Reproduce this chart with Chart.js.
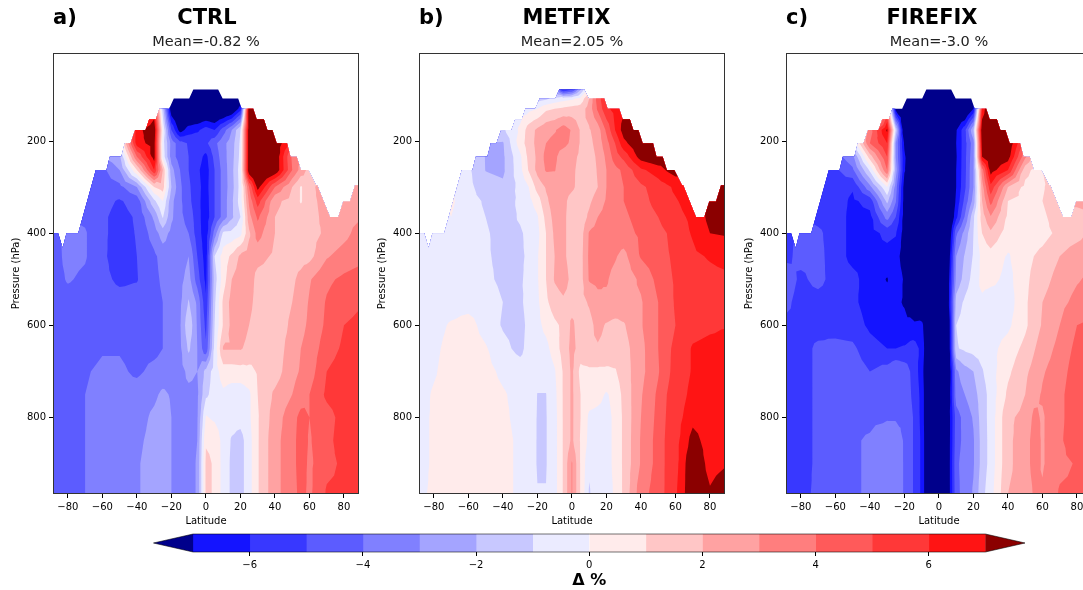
<!DOCTYPE html>
<html>
<head>
<meta charset="utf-8">
<title>CTRL METFIX FIREFIX</title>
<script src="https://cdn.jsdelivr.net/npm/chart.js@4/dist/chart.umd.min.js"></script>
<style>
  html, body { margin: 0; padding: 0; background: #fff; overflow: hidden; }
  #page { position: relative; width: 1083px; height: 590px; overflow: hidden; }
  .box { position: absolute; }
</style>
</head>
<body>
<div id="page">
  <div class="box" style="left:0;top:0;width:366px;height:530px"><canvas id="panelA"></canvas></div>
  <div class="box" style="left:366px;top:0;width:366px;height:530px"><canvas id="panelB"></canvas></div>
  <div class="box" style="left:733px;top:0;width:366px;height:530px"><canvas id="panelC"></canvas></div>
  <div class="box" style="left:0;top:525px;width:1083px;height:65px"><canvas id="colorbar"></canvas></div>
</div>
<script>
// grid of the three panels
const lats = [-88, -80, -70, -60, -50, -40, -30, -25, -20, -15, -10, -5, 0, 5, 10, 15, 20, 25, 30, 40, 50, 55, 60, 70, 80, 88];
const pressures = [85, 108, 130, 176, 205, 234, 263, 300, 330, 365, 400, 450, 500, 550, 600, 650, 700, 750, 800, 850, 900, 960];

// one row per pressure, one value per latitude
const ctrlValues = [
  [-4,-4,-4,-4,-4,3,8,0,-8,-9,-9,-9,-9,-9,-9,-9,-8,0,9,9,9,5,4,3,3,3],
  [-4,-4,-4,-4,-4,3,7,-1,-8.5,-9,-9,-9,-9,-9,-9,-9,-8,2,9,9,9,5,4,3,3,3],
  [-4,-4,-4,-4,-4,3,6,-1.5,-8,-9,-9,-9,-9,-9,-9,-8.5,-6.5,8,9,9,9,5,4,3,3,3],
  [-4,-4,-4,-4,2,6.5,8,0,-5,-7.5,-6.5,-6.2,-5.5,-6,-4.5,-3,-1,8,9,8,7,5,4,3,3,3],
  [-4,-4,-4,-3,-0.5,6.5,7.5,-0.5,-3.4,-4.6,-5.1,-5.1,-5.2,-4.3,-3.3,-2.5,-0.8,8,8.5,8,5.5,4,3,3,3,3],
  [-4,-4,-4,-3,-2.2,4,7.5,-0.3,-3.5,-4.5,-5,-5.5,-6.3,-4.7,-3.4,-2.4,-0.7,8,9,8,3.8,3,2.2,3,3,3],
  [-4,-4,-4.5,-4.3,-3,1,6,2,-2.6,-4,-5,-5.8,-6.5,-5,-3.6,-2.3,-0.5,8,9,8,4,2.6,1.6,1.5,2.5,3],
  [-4,-4,-4.4,-4.4,-4.3,-3,1,1.5,-2,-3.8,-4.8,-5.7,-6.4,-5,-3.6,-2.4,-0.6,4,7.4,4,2,0.9,1.6,2.8,3,2.9],
  [-4,-4,-4.4,-4.7,-5.1,-4.6,-1.2,0,-2.7,-3.8,-4.7,-5.7,-6.5,-5,-3.6,-2.2,-0.5,3.2,5.5,2.2,1.7,0.9,1.6,2.5,2.7,2.7],
  [-4,-4,-4.2,-4.85,-5.3,-4.9,-2.8,-0.9,-2.8,-3.8,-4.3,-5.6,-6.6,-5,-3.6,-2.2,-1,2.6,4.2,2,1.6,1.5,1.5,2.4,2.6,2.9],
  [-4.3,-3.7,-3.9,-4.85,-5.3,-4.95,-3.5,-2.5,-3.3,-3.7,-4,-5.5,-6.6,-3.6,-0.8,-0.7,-0.3,1.8,3.4,2,1.6,1.6,1.6,2.2,2.7,3.3],
  [-4.4,-3.7,-3.9,-4.85,-5.4,-5,-4.2,-3.6,-3.5,-3.5,-3,-5,-6.5,-1,0.5,1.2,2.2,2.5,2.4,1.8,1.6,1.6,1.7,2.9,3.4,3.7],
  [-4.4,-3.9,-4.2,-4.8,-5.15,-5.05,-4.3,-3.8,-3.5,-3.3,-2.6,-4.5,-6.3,-1.5,0.5,2,2.5,2.6,1.6,1.4,1.8,2.3,2.9,3.8,4.2,4.4],
  [-4.6,-4.4,-4.5,-4.6,-4.7,-4.7,-4.4,-4,-3.5,-3.2,-1.9,-3.2,-5.8,-1.2,1.2,2.4,2.5,2.3,1.6,1.4,2,2.5,3.1,4.1,4.6,4.9],
  [-4.7,-4.7,-4.7,-4.7,-4.7,-4.7,-4.5,-4,-3.6,-3.1,-1.2,-3.1,-5.3,-1,1.1,2.3,2.5,2,1.5,1.4,2.2,2.7,3.2,4.2,5,5.2],
  [-4.8,-4.7,-4.4,-4.1,-4.1,-4.4,-4.3,-4,-3.5,-3.2,-1.8,-3,-4.8,-0.7,2.1,2.1,2.1,1.7,1.4,1.4,2.5,3,3.4,4.5,5.2,5.4],
  [-4.8,-4.7,-4.1,-3.8,-3.8,-4.2,-3.7,-3.6,-3.5,-3.3,-2.8,-3,-1.7,-0.5,0.5,0.5,0.6,0.7,1.1,1.5,2.7,3.1,3.5,5,5.5,5.6],
  [-4.8,-4.6,-4,-3.7,-3.6,-3.5,-3.2,-2.8,-3.1,-3.2,-3.2,-3.2,-1.2,-0.6,-0.2,-0.5,-0.6,-0.2,1,2.2,3,3.5,4,5.2,5.6,5.7],
  [-4.7,-4.6,-4,-3.7,-3.6,-3.4,-2.8,-2.5,-3,-3.3,-3.4,-3.1,0.1,-0.2,-0.5,-0.6,-0.6,-0.2,0.9,2.5,3.6,4.3,4,4.6,5.4,5.5],
  [-4.7,-4.6,-4,-3.7,-3.5,-3.2,-2.7,-2.5,-3,-3.3,-3.4,-3,0.9,0.8,-0.4,-1.1,-1.4,-0.4,0.9,2.7,3.6,4.5,3.9,4.7,5.5,5.6],
  [-4.7,-4.6,-4,-3.7,-3.5,-3.1,-2.6,-2.5,-3,-3.3,-3.4,-2.9,1.2,0.9,-0.4,-1.2,-1.4,-0.4,0.9,2.7,3.6,4.5,3.8,4.7,5.2,5.3],
  [-4.6,-4.5,-4,-3.7,-3.5,-3.1,-2.6,-2.5,-3,-3.3,-3.4,-2.9,1.2,0.9,-0.4,-1.2,-1.4,-0.4,0.9,2.7,3.6,4.3,3.8,5.1,5.2,5.1]
];
const metfixValues = [
  [-0.5,-0.5,-0.5,-0.5,-0.5,-0.5,-0.5,-0.5,-0.5,-0.6,-2,-7,-6,-2.5,1,3,5,6,7,8,8,8,8,8,8,8],
  [-0.5,-0.5,-0.5,-0.5,-0.5,-0.5,-0.5,-0.8,-1.5,-1.2,-0.7,-0.4,-0.2,0.3,2,4.5,6,6.5,7,8,8,8,8,8,8,8],
  [-1,-1,-1,-1,-1,-1,-0.5,-0.3,0,0.8,1,1.2,1.4,1.5,2.4,4.2,5.8,6.3,6.8,8,8,8,8,8,8,8],
  [-1,-1,-1,-1,-1,-1.2,0.2,1.5,2.2,2.7,2.9,3.5,2.9,1.9,1.9,2.5,4.2,6,7.5,8.5,8,8,8,8,8,8],
  [-1,-1,-1,-1.5,-2.05,-2.1,0.5,1.5,2.3,3,3.3,3.3,2.8,1.9,1.7,2.4,3.6,5,6.7,8,8,8,8,8,8,8],
  [-1,-1,-1,-1,-2.05,-2.2,-0.2,1.3,2.2,3.3,3.2,2.5,2.3,1.8,1.5,2.2,3.2,4.5,5.3,7.5,8,7.6,7.5,7.5,7.5,7.5],
  [-0.7,-0.7,-0.5,-0.8,-2.03,-2.2,-0.3,1.1,2.3,3.1,3.05,2.5,2.2,1.7,1.4,2.1,3,3.7,4.2,5.8,6.5,7.1,7.5,7,7,7],
  [-0.7,-0.5,0.1,-0.7,-1.6,-1.8,-0.7,0,1.4,2.1,2.5,2.4,2.2,1.6,1.4,2,3,3.5,4,4.8,5.5,5.8,6.2,6.8,7.3,7.6],
  [-0.7,-0.4,0.2,-0.7,-1.1,-1.5,-0.8,-0.3,0.5,1.8,2.5,2.3,1.6,1.4,1.8,2.5,3.1,3.5,4,4.6,5.4,5.7,5.9,6.5,7.2,7.8],
  [-0.7,-0.6,0,-0.7,-1,-1.4,-0.9,-0.6,-0.1,1.3,2.4,2.2,1.6,1.4,2.2,3,3.3,3.5,3.8,4.4,5,5.3,5.7,6.2,7.3,7.8],
  [-0.5,-0.6,-0.1,-0.6,-0.9,-1.3,-1.1,-0.8,-0.3,1,2.2,2.2,1.6,1.5,3.1,3.4,3.4,3.5,3.6,4.2,4.8,5,5.4,6.1,7,7.1],
  [-0.5,-0.5,-0.4,-0.5,-0.9,-1.2,-1.1,-0.9,-0.1,1,2,2.2,1.6,1.6,3.2,3.4,3.3,3.1,2.7,4.1,4.6,4.9,5.2,5.8,6.1,6.3],
  [-0.5,-0.5,-0.4,-0.5,-0.8,-1.2,-1.1,-0.8,-0.1,1,2.1,2.5,1.7,1.6,3.1,3.3,3.1,2.7,2.4,3.2,4.3,4.8,5.1,5.5,5.7,5.8],
  [-0.5,-0.5,-0.4,-0.4,-0.5,-1,-1.2,-0.6,-0.2,0.8,1.5,1.8,1.6,1.7,2.1,2.6,2.8,2.7,2.6,2.9,4,4.6,5.1,5.5,5.6,5.7],
  [-0.6,-0.3,0.1,0.4,-0.4,-1.1,-1.4,-0.7,-0.3,0.3,0.8,1.2,2.2,1.5,1.7,2.3,1.9,1.7,1.9,2.9,4,4.6,5,5.6,5.8,5.95],
  [-0.5,-0.2,0.3,0.5,0.1,-0.7,-1.3,-0.6,-0.5,-0.3,0.5,1.4,2.3,1.6,1.9,1.9,1.7,1.6,1.6,2.7,4,4.8,5.2,6.1,6.3,6.3],
  [-0.4,-0.1,0.4,0.6,0.3,-0.2,-0.5,-0.5,-0.7,-0.7,-0.1,1.1,2.2,0.7,0.8,0.8,0.8,0.9,1.5,2.7,3.9,4.8,5.3,6.1,6.4,6.5],
  [-0.3,0.1,0.4,0.6,0.4,0.1,-0.3,-0.4,-1.02,-1.02,-0.3,1.1,2.2,1,0.5,0.3,-0.1,0.3,1.3,2.9,4.2,5,5.4,6.3,6.5,6.5],
  [-0.2,0.1,0.5,0.6,0.5,0.2,-0.3,-0.5,-1.05,-1.05,-0.4,1.1,2.2,1,-0.2,-0.3,-0.3,0.2,1.2,3,4.3,5.1,5.5,6.7,6.4,6.4],
  [-0.2,0.1,0.5,0.6,0.5,0.3,-0.2,-0.6,-1.05,-1.05,-0.4,1.1,2.2,0.9,-0.3,-0.3,-0.3,0.2,1.2,3.1,4.4,5.2,5.6,7.4,6.5,6.5],
  [-0.2,0.1,0.5,0.6,0.5,0.3,-0.2,-0.6,-1.05,-1.05,-0.4,1.1,3.1,0.9,-0.8,-0.3,-0.3,0.2,1.2,3.1,4.4,5.2,5.6,8,6.6,6.9],
  [-0.1,0.1,0.5,0.6,0.5,0.3,-0.2,-0.5,-0.98,-0.98,-0.4,1.1,3.1,0.9,-1.1,-0.4,-0.3,0.1,1.2,3.6,4.5,5.2,5.8,8,7.1,7.6]
];
const firefixValues = [
  [-5,-5,-5,-5,-5,-5,6,-5,-9,-9,-9,-9,-9,-9,-9,-9,-9,8,9,9,9,6,5,3,3,3],
  [-5,-5,-5,-5,-5,-5,5,-7,-9,-9,-9,-9,-9,-9,-9,-9,-8.5,7,9,9,9,6,5,3,3,3],
  [-5,-5,-5,-5,-5,-5,4,-7.5,-9,-9,-9,-9,-9,-9,-9,-9,-7,6,9,9,9,6,5,3,3,3],
  [-5,-5,-5,-5,1,3.5,7.2,-1.2,-8.5,-9,-9,-9,-9,-9,-7.1,-5.3,-2,8,9,8.5,6,5,4,3,3,3],
  [-5,-5,-5,-4,-1,4,6,-3,-7.2,-9,-9,-9,-9,-9,-7,-5.4,-3.4,7.5,8.5,8,4.5,3.5,3,3,3,3],
  [-5,-5,-5,-4.5,-3.3,1.5,5,-3,-6.8,-8.5,-9,-9,-9,-9,-7.1,-5.3,-3.2,7,8,7.5,3.2,1.8,1.6,2,2,2],
  [-5,-5,-5.5,-5.2,-4.2,-0.8,4,-2.5,-6.9,-8,-9,-9,-9,-9,-7,-5.3,-3,3.5,7.5,6,1.4,0.8,1,1.5,1.5,1.5],
  [-5,-5,-5.5,-5.5,-5.9,-3.3,0,-3.5,-7.5,-8,-9,-9,-9,-9,-7,-5.2,-3,2.5,5.7,2,0.7,0.6,0.8,2.3,2.2,2.2],
  [-5,-5,-5.3,-5.5,-6.2,-5.6,-1.7,-3.9,-7.5,-8,-9,-9,-9,-9,-6.8,-4.7,-2.6,2,4.4,1,0.7,0.6,1,2.1,2.2,2.3],
  [-5,-5,-5.3,-5.5,-6.3,-6.3,-3.6,-5,-7.5,-8,-9,-9,-9,-9,-6.3,-3.9,-1.2,1.5,2.9,0.8,0.5,0.5,0.7,1.8,1.7,1.9],
  [-5.5,-4.5,-4.8,-5.5,-6.3,-6.4,-5.7,-5.9,-7.5,-9,-9,-9,-9,-9,-4.2,-2.6,-1,1,1.8,0.5,0.4,0.5,0.6,1.3,1.6,2.2],
  [-5.2,-4.7,-4.7,-5.5,-6.3,-6.4,-6.4,-6.6,-7.5,-8.5,-9,-9,-9,-8.5,-3,-1.9,-0.9,0.3,0.6,-0.1,0.6,1,1.3,2,2.6,2.7],
  [-4.5,-5.2,-4.7,-5.4,-5.7,-6.5,-7.05,-6.5,-7.1,-9,-9,-9,-9,-8,-2.7,-1.6,-0.6,0.3,0.3,-0.3,0.7,1.3,1.6,2.4,2.9,3.2],
  [-4.8,-5.4,-5.4,-5.5,-5.8,-6.4,-6.7,-6.8,-7.1,-8,-9,-9,-9,-8,-1.6,-0.8,-0.2,-0.2,-0.6,-0.5,0.8,1.5,2,2.7,3.3,3.5],
  [-5.2,-5.3,-5.3,-5.4,-5.5,-6.2,-6.6,-6.6,-6.7,-6.7,-6.6,-9,-9,-9,-1,-0.6,-0.5,-0.4,-0.5,-0.2,0.8,1.5,2.1,3,4,4.2],
  [-5.2,-5.3,-4.85,-4.7,-4.8,-5.6,-6,-6,-5.9,-5.6,-6.2,-9,-9,-9,-1.1,-0.8,-0.6,-0.5,-0.3,0.4,1.3,1.9,2.5,3.3,4.3,4.7],
  [-5.2,-5.3,-4.85,-4.5,-4.5,-5,-4.6,-4,-4.4,-5.3,-6.5,-9,-9,-9,-3.2,-2.4,-2,-1.1,-0.4,0.8,1.8,2.3,2.9,3.5,4.6,4.9],
  [-5.2,-5.3,-4.85,-4.4,-4.4,-4.3,-4.2,-4.1,-4.3,-5.2,-6.3,-9,-9,-8.5,-3.5,-3,-2.4,-1.5,-0.6,1.2,2,2.7,3.1,3.7,4.8,5.1],
  [-5.2,-5.3,-4.85,-4.3,-4.2,-4.2,-4.1,-4.1,-4.2,-5,-6.3,-9,-9,-8,-4.5,-3.6,-2.9,-1.5,-0.6,1.8,2.3,3.2,2.9,3.7,4.8,5.2],
  [-5.2,-5.3,-4.85,-4.2,-4.1,-3.9,-3.4,-3.5,-4.1,-5,-6.2,-9,-9,-8,-4.4,-3.7,-3.1,-1.6,-0.6,1.8,2.5,3.4,2.9,3.8,4.8,5.2],
  [-5.2,-5.3,-4.85,-4.2,-4.1,-3.9,-3.3,-3.4,-4.1,-5,-6.2,-9,-9,-8,-4.2,-3.6,-3.1,-1.6,-0.6,1.8,2.5,3.4,2.9,3.7,4.1,4.2],
  [-5.1,-5.2,-4.85,-4.2,-4.1,-3.9,-3.3,-3.4,-4.1,-5,-6.2,-9,-9,-8,-4.3,-3.6,-2.9,-1.3,-0.4,2,2.4,3.1,3.1,4.1,4.2,4.2]
];

// upper edge of the data (above it the field is missing)
const edgeLat = [-88.6,-85.6,-83,-80.8,-74,-63.8,-57.6,-55.7,-49,-47,-43.7,-41,-35,-32.9,-29,-27,-21.3,-18.6,-9.7,-7.3,7.1,9.7,18.7,20.7,27.4,29.4,33.6,35.6,38.5,41,47,49,52.6,55,59.3,63.8,64.5,71.9,76.7,79.6,83.5,86.4,88.7];
const edgeP = [400,400,432,400,400,263,263,234,234,205,205,176,176,153,153,130,130,108,108,88,88,108,108,130,130,153,153,176,176,205,205,234,234,263,263,296,296,365,365,331,331,296,296];

// contour levels and colours
const levels = [-7,-6,-5,-4,-3,-2,-1,0,1,2,3,4,5,6,7];
const bandColors = ['#00008b','#1414ff','#3838ff','#5c5cff','#8080ff','#a4a4ff','#c8c8ff','#ebebff','#ffebeb','#ffc6c6','#ffa2a2','#ff7e7e','#ff5a5a','#ff3838','#ff1414','#8b0000'];

const latTicks = [-80,-60,-40,-20,0,20,40,60,80];
const pressureTicks = [200,400,600,800];
const barTicks = [-6,-4,-2,0,2,4,6];

const latRange = [-88.6, 88.7];
const pressureRange = [9, 966];
const barRange = [-7.7, 7.7];

const panelIds = ['panelA','panelB','panelC'];
const panelLetters = ['a)','b)','c)'];
const panelNames = ['CTRL','METFIX','FIREFIX'];
const panelMeans = ['Mean=-0.82 %','Mean=2.05 %','Mean=-3.0 %'];
const panelNameShift = [1,-5.5,-7];
const panelValues = [ctrlValues, metfixValues, firefixValues];

Chart.defaults.font.family = '"DejaVu Sans", sans-serif';
Chart.defaults.color = '#000';
Chart.defaults.animation = false;

const minusSign = v => String(v).replace('-', '\u2212');

// keep the part of a triangle where v >= level
function clipAbove(poly, level) {
  const out = [];
  for (let i = 0; i < poly.length; i++) {
    const a = poly[i];
    const b = poly[(i + 1) % poly.length];
    if (a.v >= level) out.push(a);
    if ((a.v >= level) !== (b.v >= level)) {
      const t = (level - a.v) / (b.v - a.v);
      out.push({ x: a.x + t * (b.x - a.x), y: a.y + t * (b.y - a.y), v: level });
    }
  }
  return out;
}

// filled contours drawn through the chart scales, low levels first
const contourPlugin = {
  id: 'contour',
  beforeDatasetsDraw(chart) {
    const { ctx, chartArea: area, scales: { x, y } } = chart;
    const pts = chart.data.datasets[0].data;
    const nc = lats.length;
    ctx.save();
    ctx.beginPath();
    ctx.rect(area.left, area.top, area.width, area.height);
    ctx.clip();
    ctx.beginPath();
    edgeLat.forEach((lat, i) => {
      ctx.lineTo(x.getPixelForValue(lat), y.getPixelForValue(edgeP[i]));
    });
    ctx.lineTo(x.getPixelForValue(latRange[1]), y.getPixelForValue(pressureRange[1]));
    ctx.lineTo(x.getPixelForValue(latRange[0]), y.getPixelForValue(pressureRange[1]));
    ctx.closePath();
    ctx.clip();

    ctx.fillStyle = bandColors[0];
    ctx.fillRect(area.left, area.top, area.width, area.height);

    // each grid cell is split round its centre so no diagonal is favoured
    const tris = [];
    for (let r = 0; r < pressures.length - 1; r++) {
      for (let c = 0; c < nc - 1; c++) {
        const p00 = pts[r * nc + c], p01 = pts[r * nc + c + 1];
        const p10 = pts[(r + 1) * nc + c], p11 = pts[(r + 1) * nc + c + 1];
        const mid = {
          x: (p00.x + p01.x) / 2,
          y: (p00.y + p10.y) / 2,
          v: (p00.v + p01.v + p10.v + p11.v) / 4
        };
        tris.push([p00, p01, mid], [p01, p11, mid], [p11, p10, mid], [p10, p00, mid]);
      }
    }
    // the outer columns reach the frame of the axes
    levels.forEach((level, i) => {
      ctx.beginPath();
      tris.forEach(tri => {
        const poly = clipAbove(tri, level);
        if (poly.length < 3) return;
        poly.forEach((p, k) => {
          const px = x.getPixelForValue(p.x === lats[0] ? latRange[0] : p.x === lats[nc - 1] ? latRange[1] : p.x);
          const py = y.getPixelForValue(p.y === pressures[pressures.length - 1] ? pressureRange[1] : p.y);
          if (k === 0) ctx.moveTo(px, py); else ctx.lineTo(px, py);
        });
        ctx.closePath();
      });
      ctx.fillStyle = bandColors[i + 1];
      ctx.fill();
    });
    ctx.restore();
  }
};

// frame of the axes and the bold headings
const framePlugin = {
  id: 'frame',
  afterDraw(chart, args, opts) {
    const { ctx, chartArea: a } = chart;
    ctx.save();
    ctx.strokeStyle = '#333';
    ctx.lineWidth = 1;
    ctx.strokeRect(Math.round(a.left) + 0.5, Math.round(a.top) + 0.5, Math.round(a.width) - 1, Math.round(a.height) - 1);
    ctx.fillStyle = '#000';
    ctx.font = 'bold 21px "DejaVu Sans"';
    ctx.textBaseline = 'middle';
    ctx.textAlign = 'left';
    ctx.fillText(opts.letter, a.left, 19);
    ctx.textAlign = 'center';
    ctx.fillText(opts.name, (a.left + a.right) / 2 + opts.shift, 19);
    ctx.restore();
  }
};

function makePanel(i) {
  const points = [];
  pressures.forEach((p, r) => {
    lats.forEach((lat, c) => points.push({ x: lat, y: p, v: panelValues[i][r][c] }));
  });
  new Chart(document.getElementById(panelIds[i]), {
    type: 'scatter',
    data: { datasets: [{ data: points, pointRadius: 0, pointHoverRadius: 0 }] },
    plugins: [contourPlugin, framePlugin],
    options: {
      responsive: false,
      layout: { padding: { left: 0, right: 7, top: 0, bottom: 0 } },
      plugins: {
        legend: { display: false },
        tooltip: { enabled: false },
        title: {
          display: true,
          text: panelMeans[i],
          font: { size: 14.5, weight: 'normal' },
          color: '#222',
          fullSize: false,
          padding: { top: 33.3, bottom: 2.3 }
        },
        frame: { letter: panelLetters[i], name: panelNames[i], shift: panelNameShift[i] }
      },
      scales: {
        x: {
          type: 'linear',
          min: latRange[0],
          max: latRange[1],
          afterBuildTicks: axis => { axis.ticks = latTicks.map(v => ({ value: v })); },
          afterFit: axis => { axis.height = 36; },
          ticks: { font: { size: 10 }, padding: 3, maxRotation: 0, callback: minusSign, autoSkip: false },
          grid: { drawOnChartArea: false, drawTicks: true, tickLength: 4, color: '#000' },
          border: { display: false },
          title: { display: true, text: 'Latitude', font: { size: 10 }, padding: { top: 0, bottom: 3 } }
        },
        y: {
          type: 'linear',
          reverse: true,
          min: pressureRange[0],
          max: pressureRange[1],
          afterBuildTicks: axis => { axis.ticks = pressureTicks.map(v => ({ value: v })); },
          afterFit: axis => { axis.width = 53; },
          ticks: { font: { size: 10 }, padding: 3, autoSkip: false },
          grid: { drawOnChartArea: false, drawTicks: true, tickLength: 4, color: '#000' },
          border: { display: false },
          title: { display: true, text: 'Pressure (hPa)', font: { size: 10 }, padding: { top: 10, bottom: 0 } }
        }
      }
    }
  });
}

// extension triangles and outline of the colour bar
const capsPlugin = {
  id: 'caps',
  afterDatasetsDraw(chart) {
    const { ctx, chartArea: a, scales: { x } } = chart;
    const lo = x.getPixelForValue(levels[0]);
    const hi = x.getPixelForValue(levels[levels.length - 1]);
    const tipL = x.getPixelForValue(barRange[0]);
    const tipR = x.getPixelForValue(barRange[1]);
    const mid = (a.top + a.bottom) / 2;
    ctx.save();
    ctx.fillStyle = bandColors[0];
    ctx.beginPath(); ctx.moveTo(lo, a.top); ctx.lineTo(tipL, mid); ctx.lineTo(lo, a.bottom); ctx.closePath(); ctx.fill();
    ctx.fillStyle = bandColors[bandColors.length - 1];
    ctx.beginPath(); ctx.moveTo(hi, a.top); ctx.lineTo(tipR, mid); ctx.lineTo(hi, a.bottom); ctx.closePath(); ctx.fill();
    ctx.strokeStyle = 'rgba(0,0,0,0.55)';
    ctx.lineWidth = 1;
    ctx.beginPath();
    ctx.moveTo(lo, a.top); ctx.lineTo(hi, a.top); ctx.lineTo(tipR, mid); ctx.lineTo(hi, a.bottom);
    ctx.lineTo(lo, a.bottom); ctx.lineTo(tipL, mid); ctx.closePath();
    ctx.stroke();
    ctx.restore();
  }
};

function makeColorbar() {
  const sets = [];
  for (let i = 0; i < levels.length - 1; i++) {
    sets.push({ data: [[levels[i], levels[i + 1]]], backgroundColor: bandColors[i + 1], borderWidth: 0, barPercentage: 1, categoryPercentage: 1, grouped: false });
  }
  new Chart(document.getElementById('colorbar'), {
    type: 'bar',
    data: { labels: ['\u0394 %'], datasets: sets },
    plugins: [capsPlugin],
    options: {
      responsive: false,
      indexAxis: 'y',
      layout: { padding: { left: 153.5, right: 58, top: 9, bottom: 0 } },
      plugins: { legend: { display: false }, tooltip: { enabled: false } },
      scales: {
        x: {
          type: 'linear',
          min: barRange[0],
          max: barRange[1],
          afterBuildTicks: axis => { axis.ticks = barTicks.map(v => ({ value: v })); },
          afterFit: axis => { axis.height = 38; },
          ticks: { font: { size: 10 }, padding: 3, maxRotation: 0, callback: minusSign, autoSkip: false },
          grid: { drawOnChartArea: false, drawTicks: true, tickLength: 4, color: '#000' },
          border: { display: false },
          title: { display: true, text: '\u0394 %', font: { size: 16, weight: 'bold' }, padding: { top: 0, bottom: 0 } }
        },
        y: { type: 'category', display: false }
      }
    }
  });
}

panelIds.forEach((id, i) => {
  const cv = document.getElementById(id);
  cv.width = 366; cv.height = 530;
  makePanel(i);
});
const bar = document.getElementById('colorbar');
bar.width = 1083; bar.height = 65;
makeColorbar();
</script>
</body>
</html>
